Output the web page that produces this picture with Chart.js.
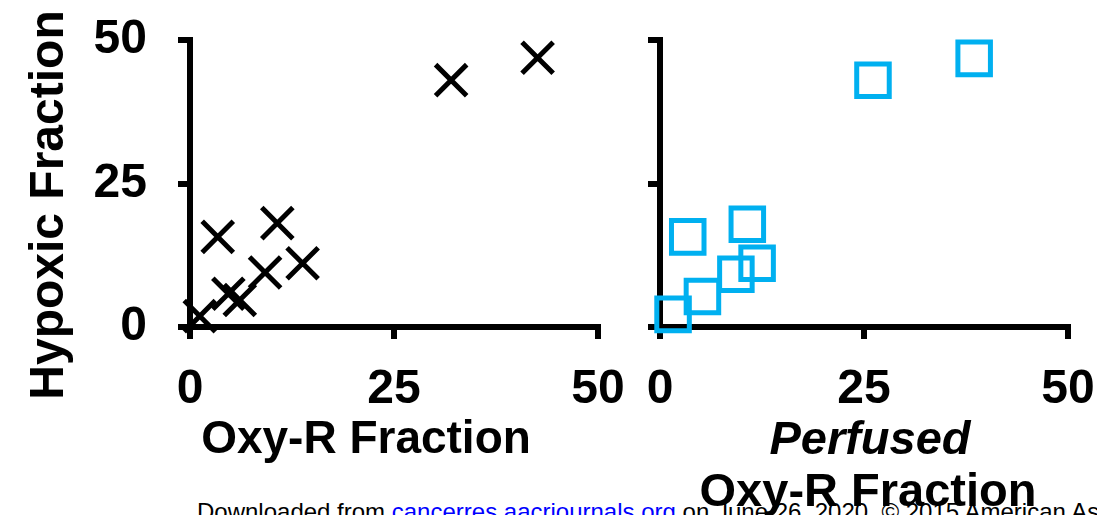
<!DOCTYPE html>
<html>
<head>
<meta charset="utf-8">
<script src="https://cdn.jsdelivr.net/npm/chart.js@4/dist/chart.umd.min.js"></script>
<style>
    body { margin: 0; background: #fff; overflow: hidden; }
    #page { position: relative; width: 1097px; height: 515px; font-family: "Liberation Sans", Arial, sans-serif; }
    canvas { position: absolute; top: 0; z-index: 1; }
    .title { position: absolute; font-weight: bold; font-size: 46px; line-height: 46px; text-align: center; white-space: nowrap; z-index: 2; color: #000; }
    #footer { position: absolute; left: 197px; top: 500px; font-size: 24px; line-height: 24px; white-space: nowrap; z-index: 0; color: #000; }
</style>
</head>
<body>
<div id="page">
    <div id="footer">Downloaded from <span style="color:#0000ff">cancerres.aacrjournals.org</span> on June 26, 2020. © 2015 American Association for Cancer Research.</div>
    <canvas id="leftChart" width="640" height="515" style="left:0"></canvas>
    <canvas id="rightChart" width="477" height="515" style="left:620px"></canvas>
    <div class="title" style="left:-163px; top:182px; width:420px; font-size:48px; transform:rotate(-90deg)">Hypoxic Fraction</div>
    <div class="title" style="left:166px; top:414px; width:400px">Oxy-R Fraction</div>
    <div class="title" style="left:720px; top:415px; width:300px; font-size:47px; font-style:italic">Perfused</div>
    <div class="title" style="left:668px; top:467px; width:400px; font-size:47px">Oxy-R Fraction</div>
</div>
<script>
// valores
const oxyR = [1.2, 4.7, 6.1, 3.4, 9.2, 10.7, 13.8, 32.0, 42.6];
const hypoxicLeft = [1.9, 5.8, 4.7, 15.7, 9.5, 18.1, 11.1, 43.0, 46.9];
const perfusedOxyR = [1.6, 5.2, 3.4, 9.3, 10.7, 11.9, 26.1, 38.5];
const hypoxicRight = [2.2, 5.3, 15.7, 9.2, 17.9, 11.1, 43.0, 46.8];
const tickValues = [0, 25, 50];

const tickFont = { family: '"Liberation Sans", Arial, sans-serif', size: 48, weight: 'bold' };

function toPoints(xs, ys) {
    return xs.map((x, i) => ({ x: x, y: ys[i] }));
}

function makeAxis(fitSize, isY, showLabels) {
    return {
        type: 'linear',
        min: 0,
        max: 50,
        afterBuildTicks: axis => { axis.ticks = tickValues.map(v => ({ value: v })); },
        afterFit: axis => {
            if (isY) axis.width = fitSize;
            else axis.height = fitSize;
            // el área del gráfico la fija solo layout.padding
            axis.paddingTop = 0;
            axis.paddingBottom = 0;
            axis.paddingLeft = 0;
            axis.paddingRight = 0;
        },
        border: { display: true, color: '#000', width: 6 },
        grid: { drawOnChartArea: false, color: '#000', lineWidth: 6, tickLength: 12 },
        ticks: {
            display: showLabels,
            color: '#000',
            font: tickFont,
            padding: isY ? 31 : 22,
            maxRotation: 0,
            autoSkip: false
        }
    };
}

function baseOptions(yWidth, padRight, showYLabels) {
    return {
        responsive: false,
        animation: false,
        events: [],
        layout: { padding: { top: 40, right: padRight, left: 0, bottom: 0 } },
        plugins: { legend: { display: false }, tooltip: { enabled: false } },
        scales: {
            x: makeAxis(188, false, true),
            y: makeAxis(yWidth, true, showYLabels)
        }
    };
}

new Chart(document.getElementById('leftChart'), {
    type: 'scatter',
    data: {
        datasets: [{
            data: toPoints(oxyR, hypoxicLeft),
            pointStyle: 'crossRot',
            pointRadius: 22,
            pointBorderWidth: 5,
            pointBorderColor: '#000',
            pointBackgroundColor: 'rgba(0,0,0,0)',
            clip: false
        }]
    },
    options: baseOptions(190, 42, true)
});

new Chart(document.getElementById('rightChart'), {
    type: 'scatter',
    data: {
        datasets: [{
            data: toPoints(perfusedOxyR, hypoxicRight),
            pointStyle: 'rect',
            pointRadius: 23,
            pointBorderWidth: 5,
            pointBorderColor: '#00b0f0',
            pointBackgroundColor: 'rgba(0,0,0,0)',
            clip: false
        }]
    },
    options: baseOptions(40, 29, false)
});
</script>
</body>
</html>
